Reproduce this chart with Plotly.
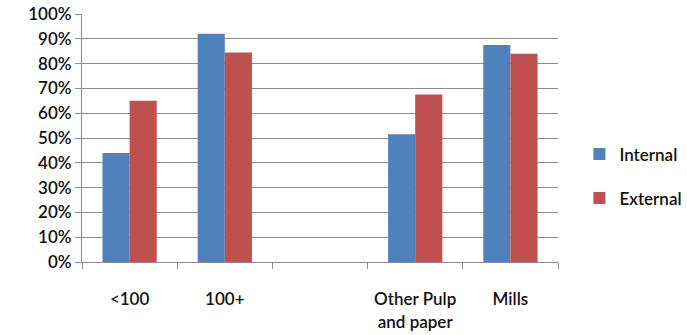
import plotly.graph_objects as go

# Share of respondents per group, internal vs external
categories = ["<100", "100+", " ", "Other Pulp<br>and paper", "Mills"]
internal = [0.44, 0.92, None, 0.515, 0.875]
external = [0.65, 0.845, None, 0.675, 0.84]
y_ticks = [i / 10 for i in range(11)]
y_tick_labels = [f"{i * 10}%" for i in range(11)]

BLUE = "#4F81BD"
RED = "#C0504D"
GRID = "#8C8C8C"
FONT = "Lato"
TEXT = "#111111"

fig = go.Figure()
fig.add_trace(go.Bar(name="Internal", x=categories, y=internal,
                     marker=dict(color=BLUE, line=dict(width=0)),
                     legendgroup="a"))
fig.add_trace(go.Bar(name="External", x=categories, y=external,
                     marker=dict(color=RED, line=dict(width=0)),
                     legendgroup="b"))

tick_font = dict(family=FONT, size=17, color=TEXT, weight=600)

fig.update_layout(
    width=687, height=335,
    margin=dict(l=82, r=129, t=14, b=73, autoexpand=False),
    paper_bgcolor="white", plot_bgcolor="white",
    barmode="group", bargap=0.43, bargroupgap=0,
    font=dict(family=FONT, size=17, color=TEXT),
    legend=dict(x=1.045, y=0.345, xanchor="left", yanchor="middle",
                traceorder="grouped", tracegroupgap=19,
                font=dict(family=FONT, size=17, color=TEXT, weight=600),
                itemwidth=30),
    xaxis=dict(
        type="category", categoryorder="array", categoryarray=categories,
        showline=True, linecolor=GRID, linewidth=1,
        ticks="outside", tickson="boundaries", ticklen=6, tickcolor=GRID,
        showgrid=False, ticklabelstandoff=22, automargin=False,
        tickangle=0, tickfont=tick_font,
    ),
    yaxis=dict(
        range=[0, 1.0], tickvals=y_ticks, ticktext=y_tick_labels,
        showline=True, linecolor=GRID, linewidth=1,
        ticks="outside", ticklen=6, tickcolor=GRID, ticklabelstandoff=0,
        showgrid=True, gridcolor=GRID, gridwidth=1,
        zeroline=False, automargin=False,
        tickfont=tick_font,
    ),
)

fig.write_html("out.html")
